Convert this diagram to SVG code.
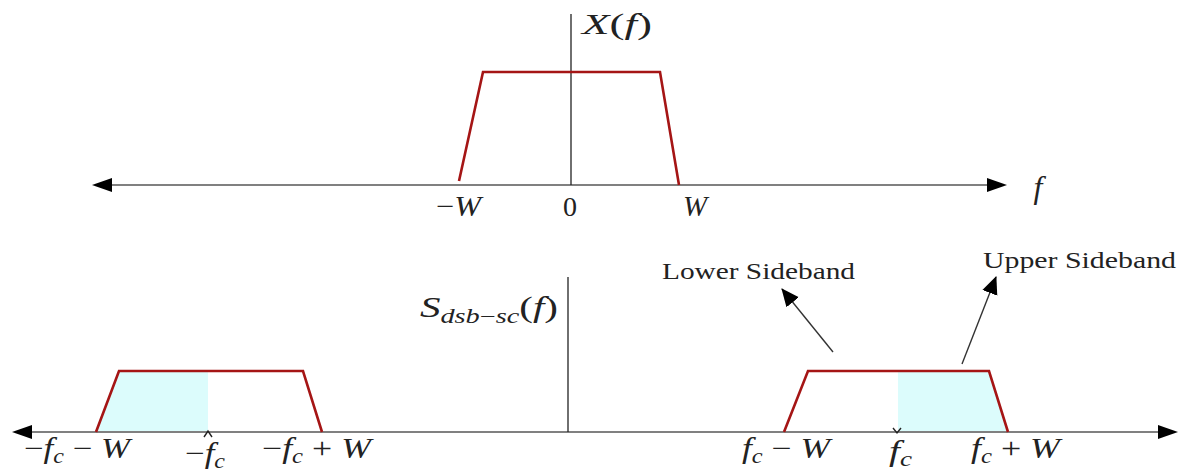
<svg xmlns="http://www.w3.org/2000/svg" width="1189" height="475" viewBox="0 0 1189 475">
<style>
.axis{stroke:#808080;stroke-width:2;fill:none}
.vax{stroke:#222;stroke-width:1.3;fill:none}
.band{stroke:#a51515;stroke-width:2.6;fill:none;stroke-linejoin:miter}
.fill{fill:#dcfcfc;stroke:none}
.lead{stroke:#333;stroke-width:1.4;fill:none}
.m{font-family:"Liberation Serif","DejaVu Serif",serif;font-style:italic;fill:#222}
.r{font-family:"Liberation Serif","DejaVu Serif",serif;fill:#222}
.t{font-family:"Liberation Serif","DejaVu Serif",serif;fill:#222;font-size:24px}
.n{font-style:normal}
</style>
<defs>
<marker id="ah2" markerUnits="userSpaceOnUse" markerWidth="18" markerHeight="20" viewBox="0 0 18 20" refX="17" refY="10" orient="auto">
<path d="M0,2 L18,10 L0,18 Z" fill="#000"/>
</marker>
</defs>

<g id="top-plot">
<line class="axis" x1="110" y1="185" x2="990" y2="185"/>
<polygon points="92,185 112,178 112,192" fill="#000"/>
<polygon points="1007,185 987,178 987,192" fill="#000"/>
<line class="vax" x1="571" y1="14" x2="571" y2="185"/>
<polyline class="band" points="459,181 483,72 660,72 679,185"/>
<text class="m" x="582" y="34" font-size="30" textLength="70" lengthAdjust="spacingAndGlyphs">X<tspan class="n">(</tspan>f<tspan class="n">)</tspan></text>
<text class="m" x="436" y="216" font-size="29" textLength="45" lengthAdjust="spacingAndGlyphs"><tspan class="n">−</tspan>W</text>
<text class="r" x="570" y="216" font-size="28" text-anchor="middle">0</text>
<text class="m" x="695" y="216" font-size="29" text-anchor="middle">W</text>
<text class="m" x="1038" y="198" font-size="32" text-anchor="middle">f</text>
</g>

<g id="bottom-plot">
<polygon class="fill" points="96,431 119,371 208,371 208,431"/>
<polygon class="fill" points="898,371 989,371 1008,431 898,431"/>
<line class="axis" x1="28" y1="432" x2="1160" y2="432"/>
<polygon points="12,432 32,425 32,439" fill="#000"/>
<polygon points="1178,432 1158,425 1158,439" fill="#000"/>
<line class="vax" x1="568" y1="277" x2="568" y2="432"/>
<polyline class="band" points="96,432 119,371 303,371 322,432"/>
<polyline class="band" points="784,432 808,371 989,371 1008,432"/>
<path d="M204,437 L208,431 L212,437" stroke="#222" stroke-width="1.4" fill="none"/>
<path d="M893,428 L897,433 L901,428" stroke="#222" stroke-width="1.4" fill="none"/>
<text class="m" x="420" y="317" font-size="29" textLength="138" lengthAdjust="spacingAndGlyphs">S<tspan font-size="20" dy="6">dsb<tspan class="n">−</tspan>sc</tspan><tspan dy="-6" class="n">(</tspan>f<tspan class="n">)</tspan></text>
<text class="m" x="24" y="458" font-size="29" textLength="106" lengthAdjust="spacingAndGlyphs"><tspan class="n">−</tspan>f<tspan font-size="20" dy="5">c</tspan><tspan dy="-5" class="n"> − </tspan>W</text>
<text class="m" x="185" y="463" font-size="29" textLength="40" lengthAdjust="spacingAndGlyphs"><tspan class="n">−</tspan>f<tspan font-size="20" dy="5">c</tspan></text>
<text class="m" x="262" y="458" font-size="29" textLength="109" lengthAdjust="spacingAndGlyphs"><tspan class="n">−</tspan>f<tspan font-size="20" dy="5">c</tspan><tspan dy="-5" class="n"> + </tspan>W</text>
<text class="m" x="742" y="458" font-size="29" textLength="88" lengthAdjust="spacingAndGlyphs">f<tspan font-size="20" dy="5">c</tspan><tspan dy="-5" class="n"> − </tspan>W</text>
<text class="m" x="889" y="461" font-size="29" textLength="23" lengthAdjust="spacingAndGlyphs">f<tspan font-size="20" dy="5">c</tspan></text>
<text class="m" x="971" y="458" font-size="29" textLength="89" lengthAdjust="spacingAndGlyphs">f<tspan font-size="20" dy="5">c</tspan><tspan dy="-5" class="n"> + </tspan>W</text>
</g>

<g id="lower-sideband">
<text class="t" x="662" y="279" textLength="193" lengthAdjust="spacingAndGlyphs">Lower Sideband</text>
</g>
<g id="upper-sideband">
<text class="t" x="983" y="268" textLength="193" lengthAdjust="spacingAndGlyphs">Upper Sideband</text>
</g>

<g id="connectors">
<line class="lead" x1="833" y1="352" x2="782" y2="289" marker-end="url(#ah2)"/>
<line class="lead" x1="962" y1="364" x2="996" y2="277" marker-end="url(#ah2)"/>
</g>
</svg>
